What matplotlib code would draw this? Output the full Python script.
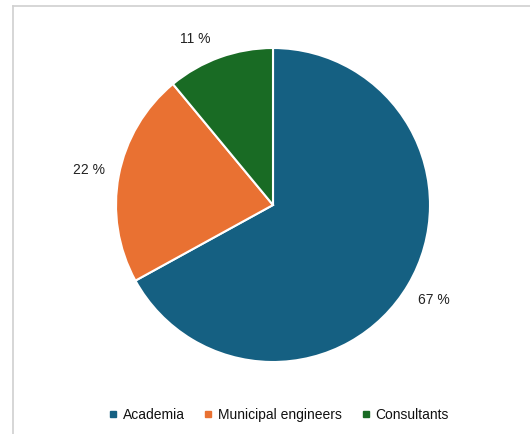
import matplotlib
matplotlib.use("Agg")
import matplotlib.pyplot as plt
from matplotlib.lines import Line2D

plt.rcParams['font.family'] = ['Liberation Sans', 'DejaVu Sans']

# respondent groups
groups = ['Academia', 'Municipal engineers', 'Consultants']
shares = [67, 22, 11]
colors = ['#156082', '#E97132', '#196B24']

W, H = 530, 434
cx, cy = 273, H - 205
fig = plt.figure(figsize=(W / 100, H / 100), dpi=100)
ax = fig.add_axes([0, 0, 1, 1])

wedges, texts, autotexts = ax.pie(
    shares, colors=colors, startangle=90, counterclock=False,
    center=(cx, cy), radius=157, frame=True,
    autopct=lambda p: '%d %%' % round(p), pctdistance=1.19,
    wedgeprops=dict(edgecolor='white', linewidth=1.5),
    textprops=dict(fontsize=10, color='#222222'))

# small slice label sits a bit further round and lower
autotexts[2].set_position((cx - 78, cy + 166))

ax.set_xlim(0, W)
ax.set_ylim(0, H)
ax.set_aspect('equal')
ax.axis('off')

# chart frame (top and left edges only)
ax.plot([13, W], [H - 6, H - 6], color='#d0d0d0', lw=1.2, clip_on=False)
ax.plot([13, 13], [H - 6, 0], color='#d0d0d0', lw=1.2, clip_on=False)

handles = [Line2D([], [], marker='s', linestyle='none', markersize=5,
                  markerfacecolor=c, markeredgecolor=c) for c in colors]
fig.legend(handles, groups, loc='center', bbox_to_anchor=(278 / W, 1 - 415 / H),
           ncol=3, frameon=False, fontsize=10, handletextpad=0.3,
           columnspacing=1.3, handlelength=0.8, labelcolor='#111111')

fig.savefig('out.png', dpi=100)
